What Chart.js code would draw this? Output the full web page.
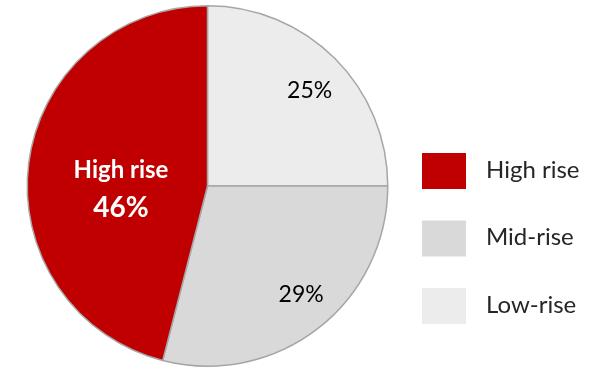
<!DOCTYPE html>
<html>
<head>
<meta charset="utf-8">
<script src="https://cdn.jsdelivr.net/npm/chart.js@4"></script>
<style>
	html, body { margin: 0; padding: 0; background: #fff; }
	#wrap { width: 608px; height: 371px; position: relative; }
</style>
</head>
<body>
<div id="wrap"><canvas id="buildingChart"></canvas></div>
<script>
// slices go clockwise from 12 o'clock
const labels = ['Low-rise', 'Mid-rise', 'High rise'];
const shares = [25, 29, 46];
const colors = ['#ececec', '#d9d9d9', '#c00000'];

// label placement: fraction of the radius, and a small turn (degrees) off the slice middle
const labelDepth = [0.775, 0.795, 0.48];
const labelTurn = [2, -3, -8.5];

const sliceLabels = {
	id: 'sliceLabels',
	afterDatasetsDraw(chart) {
		const ctx = chart.ctx;
		const meta = chart.getDatasetMeta(0);
		meta.data.forEach((arc, i) => {
			const p = arc.getProps(['x', 'y', 'startAngle', 'endAngle', 'outerRadius'], true);
			const mid = (p.startAngle + p.endAngle) / 2 + labelTurn[i] * Math.PI / 180;
			const r = p.outerRadius * labelDepth[i];
			const x = p.x + Math.cos(mid) * r;
			const y = p.y + Math.sin(mid) * r;
			ctx.save();
			ctx.textAlign = 'center';
			ctx.textBaseline = 'middle';
			if (i === 2) {
				ctx.fillStyle = '#ffffff';
				ctx.font = 'bold 24px Lato';
				ctx.fillText(labels[i], x, y - 18);
				ctx.font = 'bold 28px Lato';
				ctx.fillText(shares[i] + '%', x, y + 20);
			} else {
				ctx.fillStyle = '#000000';
				ctx.font = '23px Lato';
				ctx.fillText(shares[i] + '%', x, y);
			}
			ctx.restore();
		});
	}
};

// legend on the right, listed High -> Low
const sideLegend = {
	id: 'sideLegend',
	afterDraw(chart) {
		const ctx = chart.ctx;
		const order = [2, 1, 0];
		ctx.save();
		order.forEach((idx, row) => {
			const top = 153 + row * 67.5;
			ctx.fillStyle = colors[idx];
			ctx.fillRect(422, top, 44, 36);
			ctx.fillStyle = '#262626';
			ctx.font = '24px Lato';
			ctx.textAlign = 'left';
			ctx.textBaseline = 'middle';
			ctx.fillText(labels[idx], 486, top + 17);
		});
		ctx.restore();
	}
};

new Chart(document.getElementById('buildingChart'), {
	type: 'pie',
	data: {
		labels: labels,
		datasets: [{
			data: shares,
			backgroundColor: colors,
			borderColor: '#a6a6a6',
			borderWidth: 1.5
		}]
	},
	options: {
		responsive: true,
		maintainAspectRatio: false,
		animation: false,
		layout: {
			padding: { left: 26, top: 5, right: 219, bottom: 4 }
		},
		plugins: {
			legend: { display: false },
			tooltip: { enabled: false }
		}
	},
	plugins: [sliceLabels, sideLegend]
});
</script>
</body>
</html>
